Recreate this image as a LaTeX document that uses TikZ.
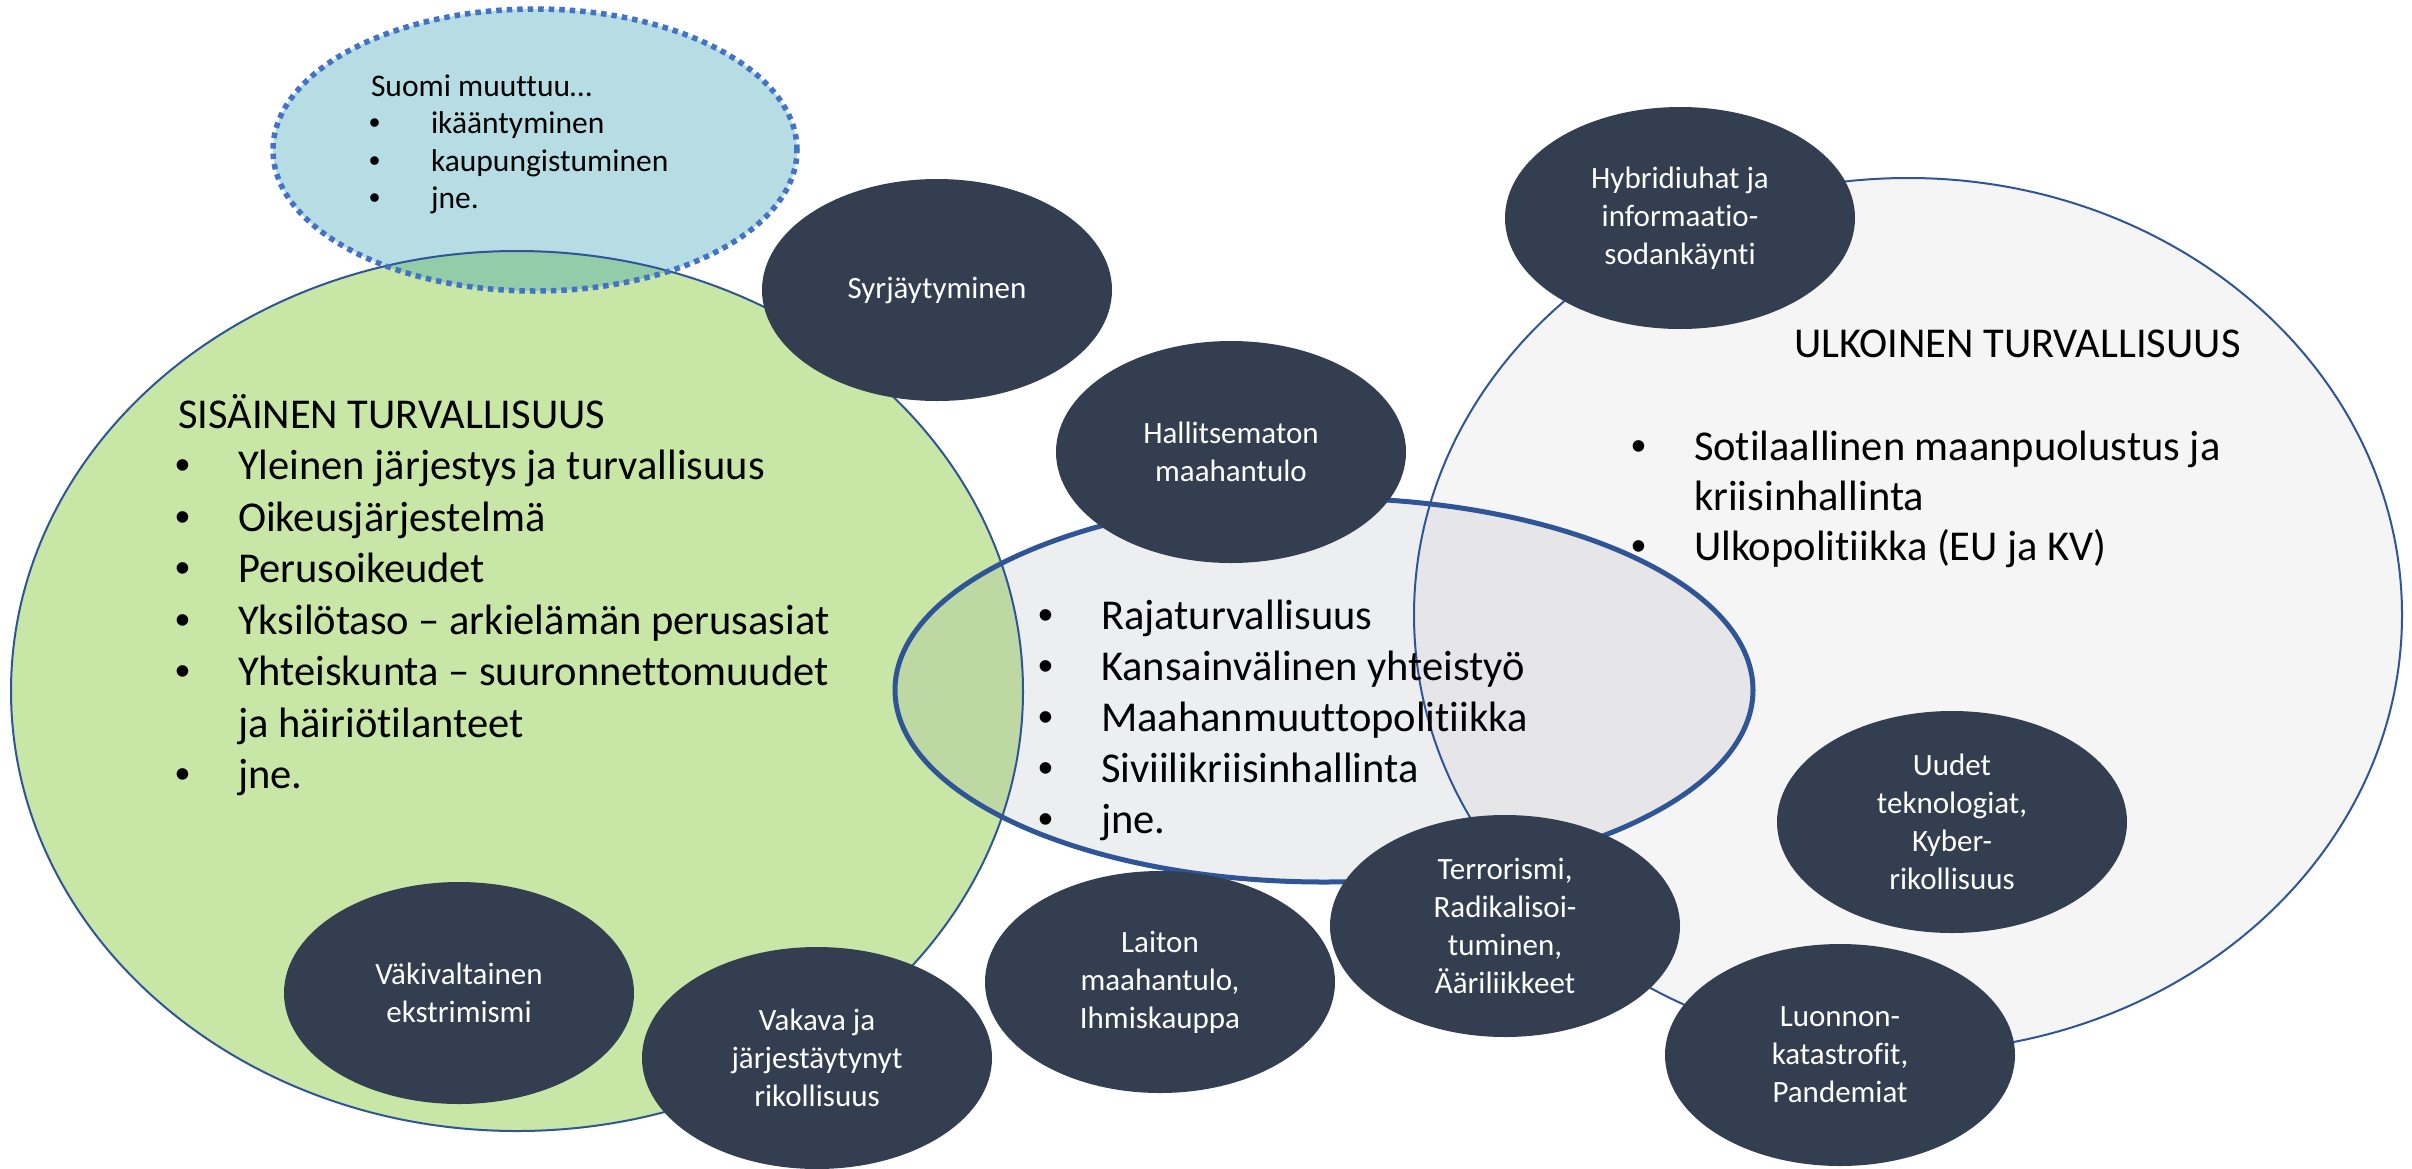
\documentclass[tikz,border=0pt]{standalone}
\usepackage{fontspec}
\setmainfont{Carlito}[Ligatures={NoCommon}]
\newfontfamily\bulfont{Liberation Sans}
\usetikzlibrary{shapes.geometric}
\definecolor{greenfill}{HTML}{C8E6A5}
\definecolor{bluefill}{HTML}{B5DDE3}
\definecolor{bluegreen}{HTML}{93CCA9}
\definecolor{midfill}{HTML}{EDEEF0}
\definecolor{midgreen}{HTML}{BDD8A2}
\definecolor{midgrey}{HTML}{E6E6E8}
\definecolor{rightfill}{HTML}{F5F5F5}
\definecolor{darknode}{HTML}{333F50}
\definecolor{edgeblue}{HTML}{2F5597}
\definecolor{dotblue}{HTML}{4472C4}
\newcommand\bul[1]{\makebox[#1][l]{\bulfont •}}
\begin{document}
\begin{tikzpicture}[x=1pt,y=-1pt,
  threat/.style={ellipse, fill=darknode, text=white, minimum width=350pt,
    minimum height=222pt, inner sep=0pt, align=center,
    font=\fontsize{31}{38}\selectfont},
  listtext/.style={anchor=base west, inner sep=0pt, outer sep=0pt},
  thinedge/.style={draw=edgeblue, line width=2pt},
  thickedge/.style={draw=edgeblue, line width=5pt},
  dotedge/.style={draw=dotblue, line width=5.5pt, dash pattern=on 5.5pt off 5pt}]
\useasboundingbox (0,0) rectangle (2412,1168);
\fill[white] (0,0) rectangle (2412,1168);
% fills
\fill[greenfill] (517,691) ellipse [x radius=506pt, y radius=440pt];
\fill[rightfill] (1908,615) ellipse [x radius=494pt, y radius=437pt];
\fill[midfill] (1324,690) ellipse [x radius=429pt, y radius=192pt];
\begin{scope}
  \clip (517,691) ellipse [x radius=506pt, y radius=440pt];
  \fill[midgreen] (1324,690) ellipse [x radius=429pt, y radius=192pt];
\end{scope}
\begin{scope}
  \clip (1908,615) ellipse [x radius=494pt, y radius=437pt];
  \fill[midgrey] (1324,690) ellipse [x radius=429pt, y radius=192pt];
\end{scope}
\fill[bluefill] (535,150) ellipse [x radius=262pt, y radius=141pt];
\begin{scope}
  \clip (517,691) ellipse [x radius=506pt, y radius=440pt];
  \fill[bluegreen] (535,150) ellipse [x radius=262pt, y radius=141pt];
\end{scope}
% borders
\draw[thinedge] (517,691) ellipse [x radius=506pt, y radius=440pt];
\draw[thinedge] (1908,615) ellipse [x radius=494pt, y radius=437pt];
\draw[thickedge] (1324,690) ellipse [x radius=429pt, y radius=192pt];
\draw[dotedge] (535,150) ellipse [x radius=262pt, y radius=141pt];
% texts
\node[listtext, font=\fontsize{31.5}{37.5}\selectfont] (suomi) at (369,96)
  {\begin{tabular}[t]{@{}l@{}l@{}}
   \multicolumn{2}{@{}l@{}}{\hspace{2pt}Suomi muuttuu…}\\
   \bul{62pt} & ikääntyminen\\
   \bul{62pt} & kaupungistuminen\\
   \bul{62pt} & jne.
   \end{tabular}};
\node[listtext, font=\fontsize{42.5}{51.5}\selectfont] (sisa) at (175,428)
  {\begin{tabular}[t]{@{}l@{}l@{}}
   \multicolumn{2}{@{}l@{}}{\hspace{3pt}SISÄINEN TURVALLISUUS}\\
   \bul{63pt} & Yleinen järjestys ja turvallisuus\\
   \bul{63pt} & Oikeusjärjestelmä\\
   \bul{63pt} & Perusoikeudet\\
   \bul{63pt} & Yksilötaso – arkielämän perusasiat\\
   \bul{63pt} & Yhteiskunta – suuronnettomuudet\\
              & ja häiriötilanteet\\
   \bul{63pt} & jne.
   \end{tabular}};
\node[listtext, font=\fontsize{42.5}{51}\selectfont] (mid) at (1038,629)
  {\begin{tabular}[t]{@{}l@{}l@{}}
   \bul{63pt} & Rajaturvallisuus\\
   \bul{63pt} & Kansainvälinen yhteistyö\\
   \bul{63pt} & Maahanmuuttopolitiikka\\
   \bul{63pt} & Siviilikriisinhallinta\\
   \bul{63pt} & jne.
   \end{tabular}};
\node[listtext, font=\fontsize{42.5}{50}\selectfont] (ulkohead) at (1794,357)
  {ULKOINEN TURVALLISUUS};
\node[listtext, font=\fontsize{42.5}{50}\selectfont] (ulko) at (1631,460)
  {\begin{tabular}[t]{@{}l@{}l@{}}
   \bul{63pt} & Sotilaallinen maanpuolustus ja\\
              & kriisinhallinta\\
   \bul{63pt} & Ulkopolitiikka (EU ja KV)
   \end{tabular}};
% threat nodes
\node[threat] (syr) at (937,290) {Syrjäytyminen};
\node[threat] (hyb) at (1680,218) {Hybridiuhat ja\\informaatio-\\sodankäynti};
\node[threat] (hal) at (1231,452) {Hallitsematon\\maahantulo};
\node[threat] (uud) at (1952,822) {Uudet\\teknologiat,\\Kyber-\\rikollisuus};
\node[threat] (luo) at (1840,1055) {Luonnon-\\katastrofit,\\Pandemiat};
\node[threat] (ter) at (1505,926) {Terrorismi,\\Radikalisoi-\\tuminen,\\Ääriliikkeet};
\node[threat] (lai) at (1160,982) {Laiton\\maahantulo,\\Ihmiskauppa};
\node[threat] (vak) at (817,1058) {Vakava ja\\järjestäytynyt\\rikollisuus};
\node[threat] (vak2) at (459,993) {Väkivaltainen\\ekstrimismi};
\end{tikzpicture}
\end{document}
